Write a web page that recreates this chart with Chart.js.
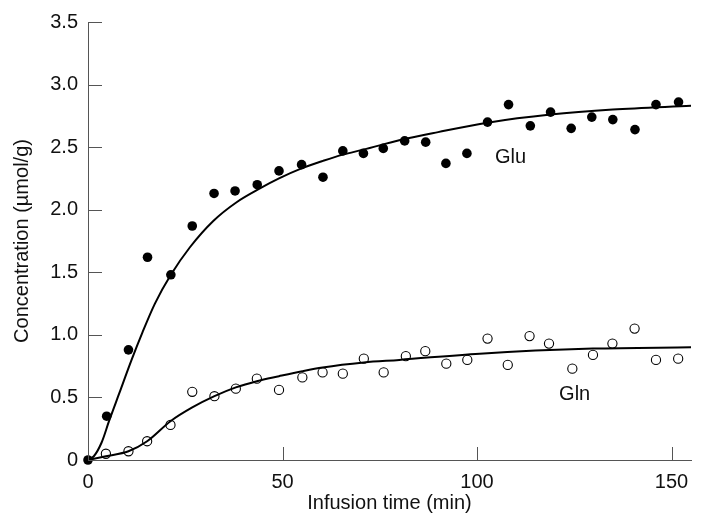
<!DOCTYPE html>
<html>
<head>
<meta charset="utf-8">
<script src="https://cdn.jsdelivr.net/npm/chart.js@4"></script>
<style>
  html, body { margin: 0; padding: 0; background: #fff; }
  #wrap { width: 704px; height: 518px; }
</style>
</head>
<body>
<div id="wrap"><canvas id="courbe" width="704" height="518"></canvas></div>
<script>
// valeurs
let gluTemps = [0, 4.8, 10.4, 15.3, 21.3, 26.8, 32.4, 37.8, 43.5, 49.1, 54.9, 60.4, 65.5, 70.8, 75.9, 81.4, 86.8, 92.0, 97.4, 102.7, 108.1, 113.7, 118.9, 124.2, 129.5, 134.9, 140.6, 146.0, 151.8];
let gluConc = [0, 0.35, 0.88, 1.62, 1.48, 1.87, 2.13, 2.15, 2.20, 2.31, 2.36, 2.26, 2.47, 2.45, 2.49, 2.55, 2.54, 2.37, 2.45, 2.70, 2.84, 2.67, 2.78, 2.65, 2.74, 2.72, 2.64, 2.84, 2.86];

let glnTemps = [4.6, 10.4, 15.2, 21.2, 26.8, 32.5, 38.0, 43.4, 49.1, 55.1, 60.3, 65.5, 70.9, 76.0, 81.7, 86.7, 92.1, 97.5, 102.7, 107.9, 113.5, 118.5, 124.5, 129.8, 134.8, 140.5, 146.0, 151.7];
let glnConc = [0.05, 0.07, 0.15, 0.28, 0.545, 0.51, 0.57, 0.65, 0.56, 0.66, 0.70, 0.69, 0.81, 0.70, 0.83, 0.87, 0.77, 0.80, 0.97, 0.76, 0.99, 0.93, 0.73, 0.84, 0.93, 1.05, 0.80, 0.81];

// courbes ajustees
let gluFitX = [0, 1.5, 3.5, 5.4, 8, 11.2, 14, 17.2, 21.3, 26.2, 32.2, 38.2, 44.2, 49.1, 54.9, 60.4, 65.5, 70.8, 80, 90, 102.7, 118.9, 134.9, 155];
let gluFitY = [0, 0.03, 0.14, 0.31, 0.53, 0.80, 1.02, 1.25, 1.48, 1.70, 1.91, 2.06, 2.17, 2.25, 2.33, 2.39, 2.44, 2.48, 2.555, 2.62, 2.695, 2.76, 2.80, 2.83];

let glnFitX = [0, 4.6, 10.4, 15.2, 21.2, 26.8, 32.5, 38, 43.4, 49.1, 55.1, 60.3, 70.9, 80, 100.7, 129.8, 155];
let glnFitY = [0, 0.03, 0.07, 0.15, 0.31, 0.42, 0.51, 0.58, 0.63, 0.67, 0.71, 0.74, 0.78, 0.80, 0.85, 0.89, 0.90];

let xTicks = [0, 50, 100, 150];
let yTicks = [0, 0.5, 1.0, 1.5, 2.0, 2.5, 3.0, 3.5];
let yLabels = ['0', '0.5', '1.0', '1.5', '2.0', '2.5', '3.0', '3.5'];

let etiquettes = [
    { texte: 'Glu', x: 108.6, y: 2.42 },
    { texte: 'Gln', x: 125.1, y: 0.52 }
];

const police = '"Liberation Sans", Arial, Helvetica, sans-serif';

function paires(xs, ys) {
    return xs.map((x, i) => ({ x: x, y: ys[i] }));
}

// ticks vers l'interieur + etiquettes Glu / Gln
const ticksInterieurs = {
    id: 'ticksInterieurs',
    afterDatasetsDraw(chart) {
        const c = chart.ctx;
        const xs = chart.scales.x;
        const ys = chart.scales.y;
        c.save();
        c.strokeStyle = '#555';
        c.lineWidth = 1;
        c.beginPath();
        xTicks.forEach(v => {
            let px = Math.round(xs.getPixelForValue(v)) + 0.5;
            c.moveTo(px, ys.bottom);
            c.lineTo(px, ys.bottom - 13);
        });
        yTicks.forEach(v => {
            let py = Math.round(ys.getPixelForValue(v)) + 0.5;
            c.moveTo(xs.left, py);
            c.lineTo(xs.left + 14, py);
        });
        c.stroke();
        c.fillStyle = '#111';
        c.font = '20px ' + police;
        c.textAlign = 'center';
        c.textBaseline = 'middle';
        etiquettes.forEach(e => {
            c.fillText(e.texte, xs.getPixelForValue(e.x), ys.getPixelForValue(e.y));
        });
        c.restore();
    }
};

let ctx = document.getElementById('courbe').getContext('2d');

let datas = {
    datasets: [
        {
            label: 'Glu ajuste',
            data: paires(gluFitX, gluFitY),
            showLine: true,
            borderColor: '#000',
            borderWidth: 2,
            pointRadius: 0,
            cubicInterpolationMode: 'monotone',
            clip: false
        },
        {
            label: 'Gln ajuste',
            data: paires(glnFitX, glnFitY),
            showLine: true,
            borderColor: '#000',
            borderWidth: 2,
            pointRadius: 0,
            cubicInterpolationMode: 'monotone',
            clip: false
        },
        {
            label: 'Gln',
            data: paires(glnTemps, glnConc),
            pointRadius: 4.6,
            pointBackgroundColor: '#fff',
            pointBorderColor: '#000',
            pointBorderWidth: 1.1,
            clip: false
        },
        {
            label: 'Glu',
            data: paires(gluTemps, gluConc),
            pointRadius: 4.8,
            pointBackgroundColor: '#000',
            pointBorderColor: '#000',
            pointBorderWidth: 0,
            clip: false
        }
    ]
};

new Chart(ctx, {
    type: 'scatter',
    data: datas,
    plugins: [ticksInterieurs],
    options: {
        responsive: false,
        animation: false,
        layout: { padding: { top: 21, right: 13, left: 0, bottom: 0 } },
        plugins: {
            legend: { display: false },
            tooltip: { enabled: false }
        },
        scales: {
            x: {
                type: 'linear',
                min: 0,
                max: 155,
                afterBuildTicks: axis => { axis.ticks = xTicks.map(v => ({ value: v })); },
                afterFit: axis => { axis.height = 58; },
                grid: { display: false, drawTicks: false },
                border: { display: true, color: '#555', width: 1 },
                ticks: {
                    color: '#111',
                    padding: 10,
                    maxRotation: 0,
                    font: { family: police, size: 20 }
                },
                title: {
                    display: true,
                    text: 'Infusion time (min)',
                    color: '#111',
                    padding: { top: 0, bottom: 3 },
                    font: { family: police, size: 20 }
                }
            },
            y: {
                type: 'linear',
                min: 0,
                max: 3.5,
                afterBuildTicks: axis => { axis.ticks = yTicks.map(v => ({ value: v })); },
                afterFit: axis => { axis.width = 88; },
                grid: { display: false, drawTicks: false },
                border: { display: true, color: '#555', width: 1 },
                ticks: {
                    color: '#111',
                    padding: 10,
                    font: { family: police, size: 20 },
                    callback: (v, i) => yLabels[i]
                },
                title: {
                    display: true,
                    text: 'Concentration (µmol/g)',
                    color: '#111',
                    padding: { top: 10, bottom: 0 },
                    font: { family: police, size: 20 }
                }
            }
        }
    }
});
</script>
</body>
</html>
